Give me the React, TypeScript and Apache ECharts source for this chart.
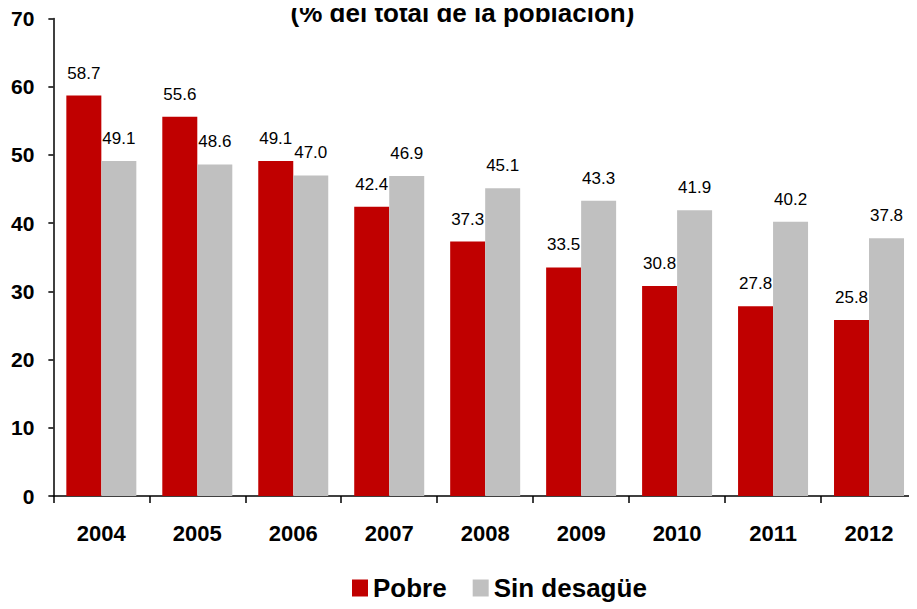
import React, { useEffect, useRef } from "react";
import * as echarts from "echarts";

const years = ["2004", "2005", "2006", "2007", "2008", "2009", "2010", "2011", "2012"];
const pobre = [58.7, 55.6, 49.1, 42.4, 37.3, 33.5, 30.8, 27.8, 25.8];
const sinDesague = [49.1, 48.6, 47.0, 46.9, 45.1, 43.3, 41.9, 40.2, 37.8];
const titleText = "(% del total de la población)";

const FONT = "'Liberation Sans', Arial, sans-serif";

export default function App() {
  const ref = useRef<HTMLDivElement>(null);
  useEffect(() => {
    if (!ref.current) return;
    const chart = echarts.init(ref.current, null, { renderer: "svg" });
    const valueLabel = {
      show: true,
      position: "top",
      distance: 14,
      formatter: (p: any) => p.value.toFixed(1),
      fontFamily: FONT,
      fontSize: 17,
      color: "#000",
    };
    chart.setOption({
      animation: false,
      title: {
        text: titleText,
        left: "center",
        top: -13,
        textStyle: { fontFamily: FONT, fontWeight: "bold", fontSize: 26, color: "#000" },
      },
      grid: { left: 44, right: -1, top: 8, bottom: 113, containLabel: false },
      legend: {
        bottom: 3,
        left: 339,
        itemWidth: 16,
        itemHeight: 17,
        itemGap: 26,
        icon: "rect",
        textStyle: { fontFamily: FONT, fontWeight: "bold", fontSize: 26, color: "#000" },
        data: ["Pobre", "Sin desagüe"],
      },
      xAxis: {
        type: "category",
        data: years,
        axisLine: { lineStyle: { color: "#000", width: 1.5 } },
        axisTick: { show: true, length: 7, lineStyle: { color: "#000", width: 1.5 } },
        axisLabel: { fontFamily: FONT, fontWeight: "bold", fontSize: 22, color: "#000", margin: 26 },
      },
      yAxis: {
        type: "value",
        min: 0,
        max: 70,
        interval: 10,
        axisLine: { show: true, lineStyle: { color: "#000", width: 1.5 } },
        axisTick: { show: true, length: 5, lineStyle: { color: "#000", width: 1.5 } },
        splitLine: { show: false },
        axisLabel: { fontFamily: FONT, fontWeight: "bold", fontSize: 21, color: "#000", margin: 19 },
      },
      series: [
        {
          name: "Pobre",
          type: "bar",
          data: pobre,
          barWidth: 35,
          barGap: "0%",
          itemStyle: { color: "#C00000" },
          label: valueLabel,
        },
        {
          name: "Sin desagüe",
          type: "bar",
          data: sinDesague,
          barWidth: 35,
          barGap: "0%",
          itemStyle: { color: "#C0C0C0" },
          label: valueLabel,
        },
      ],
    });
    return () => chart.dispose();
  }, []);
  return <div ref={ref} style={{ width: 909, height: 601 }} />;
}
